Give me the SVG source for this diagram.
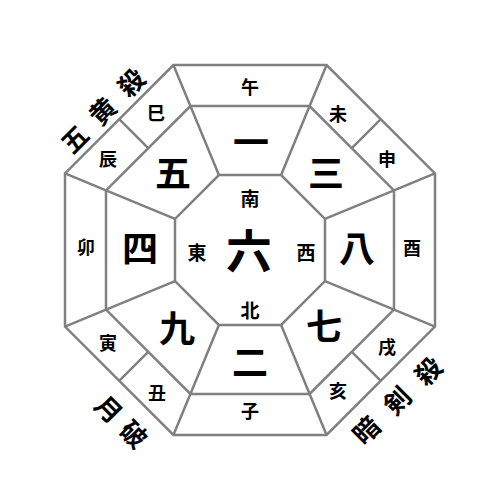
<svg xmlns="http://www.w3.org/2000/svg" width="500" height="500" viewBox="0 0 500 500">
<style>
.ln{fill:none;stroke:#808080;stroke-width:2.5;stroke-linejoin:miter}
text{font-family:"Noto Sans CJK JP","Noto Sans CJK SC",sans-serif;text-anchor:middle;dominant-baseline:central;fill:#000}
.s{font-size:18px;font-weight:700}
.d{font-size:19px;font-weight:700}
.n{font-size:36px;font-weight:700}
.c{font-size:46px;font-weight:700}
.r{font-size:26px;font-weight:700}
</style>
<rect width="500" height="500" fill="#fff"/>
<g id="grid" class="ln">
<polygon points="173.4,65 326.6,65 435,173.4 435,326.6 326.6,435 173.4,435 65,326.6 65,173.4"/>
<polygon points="190.4,106 309.6,106 394,190.4 394,309.6 309.6,394 190.4,394 106,309.6 106,190.4"/>
<polygon points="218.9,175 281.1,175 325,218.9 325,281.1 281.1,325 218.9,325 175,281.1 175,218.9"/>
<path d="M218.9,175L190.4,106M281.1,175L309.6,106M325,218.9L394,190.4M325,281.1L394,309.6M281.1,325L309.6,394M218.9,325L190.4,394M175,281.1L106,309.6M175,218.9L106,190.4"/>
<path d="M190.4,106L173.4,65M309.6,106L326.6,65M394,190.4L435,173.4M394,309.6L435,326.6M309.6,394L326.6,435M190.4,394L173.4,435M106,309.6L65,326.6M106,190.4L65,173.4"/>
<path d="M148.2,148.2L119.2,119.2M351.8,148.2L380.8,119.2M351.8,351.8L380.8,380.8M148.2,351.8L119.2,380.8"/>
</g>
<g id="branches" class="s">
<text x="250" y="86">午</text>
<text x="338" y="113">未</text>
<text x="387" y="158">申</text>
<text x="412" y="247">酉</text>
<text x="387" y="346">戌</text>
<text x="338" y="390">亥</text>
<text x="250" y="410">子</text>
<text x="157" y="392">丑</text>
<text x="108" y="342">寅</text>
<text x="86" y="246">卯</text>
<text x="108" y="158">辰</text>
<text x="156" y="112">巳</text>
</g>
<g id="stars" class="n">
<text x="251" y="140">一</text>
<text x="326" y="171">三</text>
<text x="357" y="246">八</text>
<text x="324" y="324">七</text>
<text x="250" y="360">二</text>
<text x="177" y="326">九</text>
<text x="140" y="246">四</text>
<text x="173" y="171">五</text>
</g>
<g id="center">
<text class="c" x="249" y="248">六</text>
<text class="d" x="250" y="197">南</text>
<text class="d" x="197" y="251">東</text>
<text class="d" x="306" y="251">西</text>
<text class="d" x="250" y="309">北</text>
</g>
<g id="gooosatsu" class="r">
<text x="73.5" y="138" transform="rotate(-45 73.5 138)">五</text>
<text x="101.5" y="110" transform="rotate(-45 101.5 110)">黄</text>
<text x="130" y="81.5" transform="rotate(-45 130 81.5)">殺</text>
</g>
<g id="gepa" class="r">
<text x="110" y="408" transform="rotate(45 110 408)">月</text>
<text x="135" y="433" transform="rotate(45 135 433)">破</text>
</g>
<g id="ankensatsu" class="r">
<text x="365" y="429" transform="rotate(-45 365 429)">暗</text>
<text x="396" y="399.5" transform="rotate(-45 396 399.5)">剣</text>
<text x="427" y="370" transform="rotate(-45 427 370)">殺</text>
</g>
</svg>
